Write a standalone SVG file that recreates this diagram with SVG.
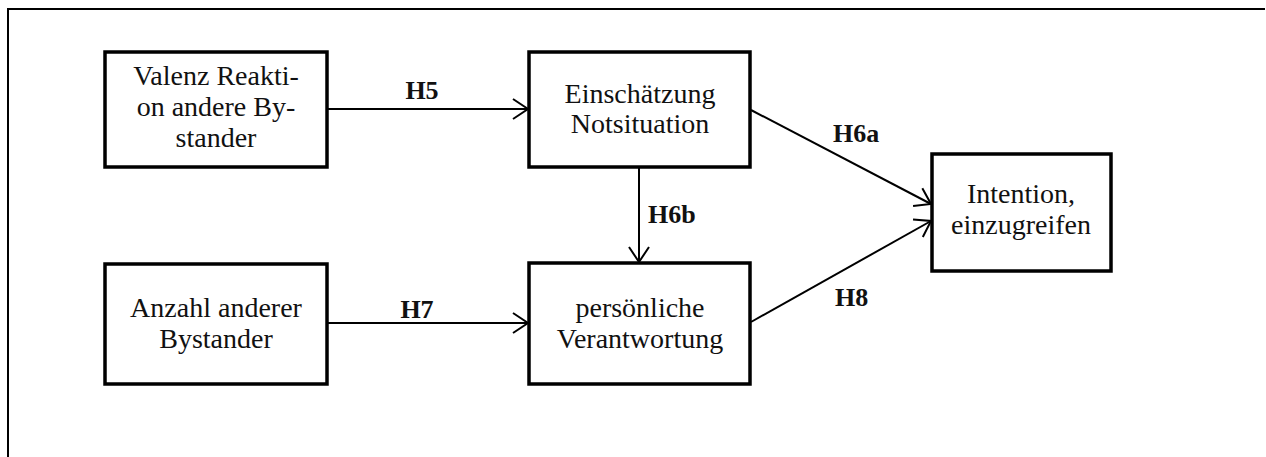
<svg xmlns="http://www.w3.org/2000/svg" width="1266" height="457" viewBox="0 0 1266 457">
<defs>
<style>
.box{fill:#fff;stroke:#000;stroke-width:3.5}
.t{font-family:"Liberation Serif",serif;font-size:28px;text-anchor:middle;fill:#111}
.l{font-family:"Liberation Serif",serif;font-size:26px;font-weight:bold;fill:#111}
.c{stroke:#000;stroke-width:2;fill:none}
</style>
<marker id="ah" markerUnits="userSpaceOnUse" markerWidth="20" markerHeight="24" refX="17" refY="12" orient="auto">
<path d="M2,2 L17,12 L2,22" fill="none" stroke="#000" stroke-width="2"/>
</marker>
</defs>
<rect width="1266" height="457" fill="#fff"/>
<g id="frame">
<path d="M8,457 L8,9 L1265,9" fill="none" stroke="#000" stroke-width="2"/>
</g>
<g id="connectors">
<line class="c" x1="327" y1="109" x2="528" y2="109" marker-end="url(#ah)"/>
<line class="c" x1="327" y1="323" x2="528" y2="323" marker-end="url(#ah)"/>
<line class="c" x1="639" y1="167" x2="639" y2="262" marker-end="url(#ah)"/>
<line class="c" x1="751" y1="110" x2="931" y2="204" marker-end="url(#ah)"/>
<line class="c" x1="751" y1="322" x2="931" y2="221" marker-end="url(#ah)"/>
<text class="l" x="422" y="99" text-anchor="middle">H5</text>
<text class="l" x="417" y="318" text-anchor="middle">H7</text>
<text class="l" x="648" y="223">H6b</text>
<text class="l" x="833" y="142">H6a</text>
<text class="l" x="835" y="306">H8</text>
</g>
<g id="valenz">
<rect class="box" x="105" y="52" width="222" height="115"/>
<text class="t" x="216" y="85">Valenz Reakti-</text>
<text class="t" x="216" y="116">on andere By-</text>
<text class="t" x="216" y="147">stander</text>
</g>
<g id="einschaetzung">
<rect class="box" x="529" y="52" width="221" height="115"/>
<text class="t" x="640" y="103">Einschätzung</text>
<text class="t" x="640" y="133">Notsituation</text>
</g>
<g id="anzahl">
<rect class="box" x="105" y="264" width="222" height="120"/>
<text class="t" x="216" y="317">Anzahl anderer</text>
<text class="t" x="216" y="348">Bystander</text>
</g>
<g id="verantwortung">
<rect class="box" x="529" y="263" width="221" height="121"/>
<text class="t" x="640" y="317">persönliche</text>
<text class="t" x="640" y="348">Verantwortung</text>
</g>
<g id="intention">
<rect class="box" x="932" y="154" width="179" height="117"/>
<text class="t" x="1021" y="203">Intention,</text>
<text class="t" x="1021" y="234">einzugreifen</text>
</g>
</svg>
